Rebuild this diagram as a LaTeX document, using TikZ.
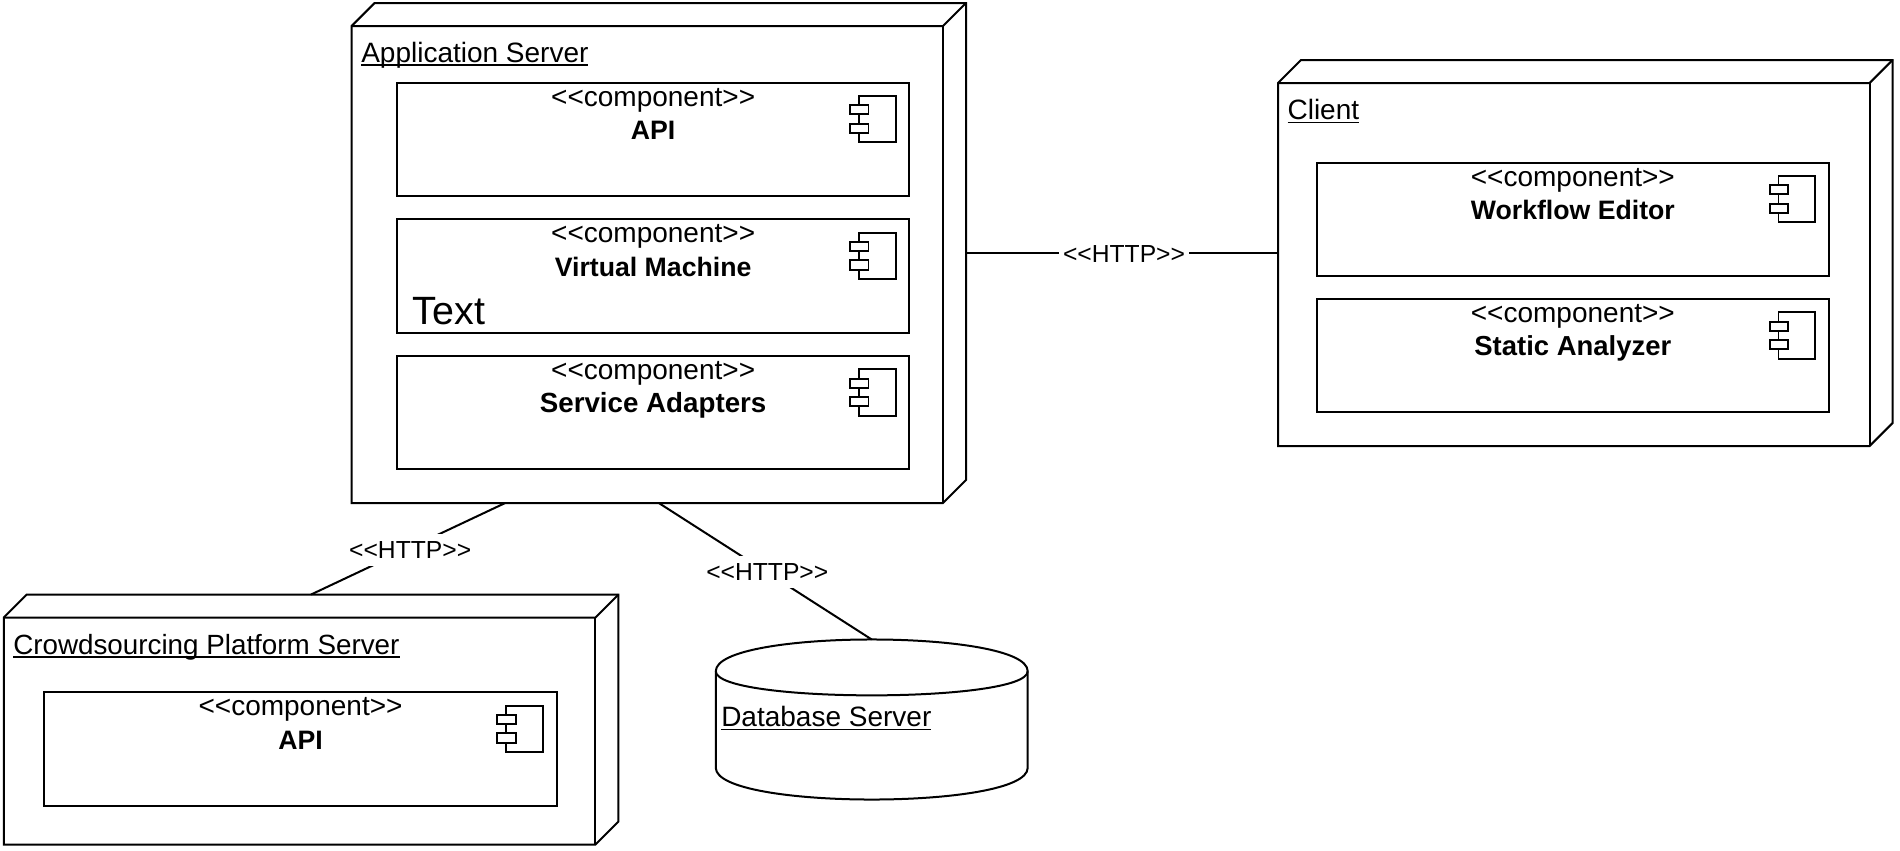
\documentclass[tikz,border=0pt]{standalone}
\usepackage{fontspec}
\setmainfont{Liberation Sans}
\usetikzlibrary{fit,calc}
\newcommand{\ulabel}[1]{\setbox0\hbox{#1}\rlap{\rule[-2.7pt]{\wd0}{1pt}}\box0}
\newcommand{\stereotext}[1]{<{}<#1>{}>}
\tikzset{
  x=0.75pt,y=-0.75pt,
  stroke/.style={line width=1.5pt,line join=miter,draw=black},
  region/.style={inner sep=0pt,outer sep=0pt,rectangle,draw=none},
  compbox/.style={inner sep=0pt,outer sep=0pt,rectangle,stroke,fill=white},
  nodelabel/.style={anchor=base west,inner sep=0pt,font=\fontsize{21}{25}\selectfont},
  stereo/.style={anchor=base,inner sep=0pt,font=\fontsize{21}{25}\selectfont},
  comptitle/.style={anchor=base,inner sep=0pt,font=\fontsize{20}{24}\selectfont\bfseries},
  httplabel/.style={fill=white,inner sep=0pt,minimum width=98pt,minimum height=24pt,xshift=1.5pt,yshift=-0.6pt,font=\fontsize{18.5}{22}\selectfont},
  link/.style={stroke}
}
% name, x0, y0, x1, y1 (box including the 3D depth)
\newcommand{\deploynode}[5]{%
  \node[region,fit={(#2,#3)(#4,#5)}] (#1) {};
  \pgfmathsetmacro{\xa}{#2+23}\pgfmathsetmacro{\xb}{#4-23}
  \pgfmathsetmacro{\ya}{#3+23}\pgfmathsetmacro{\yb}{#5-23}
  \draw[stroke,fill=white] (#2,\ya) -- (\xa,#3) -- (#4,#3) -- (#4,\yb) -- (\xb,#5) -- (#2,#5) -- cycle;
  \draw[stroke] (#2,\ya) -- (\xb,\ya) -- (#4,#3);
  \draw[stroke] (\xb,\ya) -- (\xb,#5);
}
% name, x0, y0, title
\newcommand{\component}[4]{%
  \pgfmathsetmacro{\xa}{#2+512.3}\pgfmathsetmacro{\ya}{#3+113.3}
  \node[compbox,fit={(#2,#3)(\xa,\ya)}] (#1) {};
  \node[stereo] (#1s) at ([yshift=-17.5pt]#1.north) {\stereotext{component}};
  \node[comptitle] (#1t) at ([yshift=-42.7pt]#1.north) {#4};
  \begin{scope}[shift={(#1.north east)}]
    \draw[stroke,line width=1.4pt] (-50.5,13.4) rectangle (-13.6,59.6);
    \draw[stroke,line width=1.4pt,fill=white] (-59.4,22.6) rectangle (-40.8,31.6);
    \draw[stroke,line width=1.4pt,fill=white] (-59.4,41) rectangle (-40.8,50.3);
  \end{scope}
}
\begin{document}
\begin{tikzpicture}
\useasboundingbox (0,0) rectangle (1900,850);

\deploynode{app}{351.6}{3}{966}{503}
\node[nodelabel] (appl) at (361,62) {\ulabel{Application Server}};
\component{apicomp}{397}{82.7}{API}
\component{vm}{397}{219.3}{Virtual Machine}
\node[anchor=base west,inner sep=0pt,font=\fontsize{29.6}{32}\selectfont] (vmtext) at (412.6,324) {Text};
\component{adapters}{397}{356}{\fontsize{20.8}{24}\selectfont Service Adapters}

\deploynode{client}{1278}{60}{1892.6}{446}
\node[nodelabel] (clientl) at (1287.3,119.3) {\ulabel{Client}};
\component{editor}{1316.7}{162.7}{Workflow Editor}
\component{analyzer}{1316.7}{299}{\fontsize{20.6}{24}\selectfont Static Analyzer}

\deploynode{crowd}{3.8}{594.5}{618.4}{844.5}
\node[nodelabel,font=\fontsize{20.85}{25}\selectfont] (crowdl) at (13,654) {\ulabel{Crowdsourcing Platform Server}};
\component{crowdapi}{44.4}{692.3}{API}

\node[region,fit={(715.8,639.5)(1027.7,799.5)}] (db) {};
\draw[stroke,fill=white] (715.8,671.2) .. controls (715.8,628.9) and (1027.7,628.9) .. (1027.7,671.2)
  -- (1027.7,767.8) .. controls (1027.7,810.1) and (715.8,810.1) .. (715.8,767.8) -- cycle;
\draw[stroke] (715.8,671.2) .. controls (715.8,703.4) and (1027.7,703.4) .. (1027.7,671.2);
\node[nodelabel] (dbl) at (721,726.7) {\ulabel{Database Server}};

\draw[link] (app.east) -- node[httplabel] (h1) {\stereotext{HTTP}} (client.west);
\draw[link] ($(app.south west)!0.25!(app.south east)$) -- node[httplabel] (h2) {\stereotext{HTTP}} (crowd.north);
\draw[link] (app.south) -- node[httplabel] (h3) {\stereotext{HTTP}} (db.north);
\end{tikzpicture}
\end{document}
